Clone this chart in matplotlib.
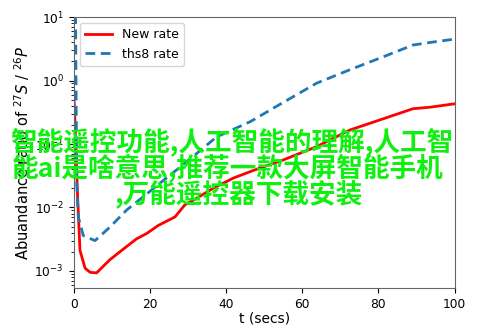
import numpy as np
import matplotlib
matplotlib.use("Agg")
from matplotlib import pyplot as plt

# values (log axis)
t_new = [0, 0.3, 0.6, 1.0, 1.65, 3, 4.3, 6, 9.5, 13, 16.5, 19.2, 22.2, 26.6, 29.2,
         31.4, 36.6, 41.9, 47, 55, 63.8, 72.5, 81.3, 89.1, 93.5, 100]
new_rate = [0.7, 0.25, 0.08, 0.016, 0.0021, 0.0011, 0.00095, 0.00093, 0.0015, 0.0022,
            0.0032, 0.0039, 0.0052, 0.0071, 0.011, 0.013, 0.020, 0.029, 0.038, 0.056,
            0.091, 0.166, 0.25, 0.36, 0.38, 0.43]

t_ths8 = [0, 0.5, 0.8, 1.2, 2.5, 5.6, 9.5, 13.9, 18.3, 22.6, 27, 32.3, 37.5, 46.3,
          54.1, 63.8, 72.5, 81.3, 89.1, 93.5, 100]
ths8_rate = [100, 8, 0.024, 0.0071, 0.0036, 0.003, 0.0049, 0.0091, 0.0148, 0.024,
             0.039, 0.071, 0.129, 0.224, 0.42, 0.91, 1.48, 2.37, 3.63, 3.98, 4.5]

overlay_lines = ["智能遥控功能,人工智能的理解,人工智",
                 "能ai是啥意思,推荐一款大屏智能手机",
                 ",万能遥控器下载安装"]

fig = plt.figure(figsize=(4.93, 3.29), dpi=100)
ax = fig.add_axes([0.1495, 0.125, 0.7725, 0.823])

ax.plot(t_new, new_rate, color="red", lw=2, label="New rate")
ax.plot(t_ths8, ths8_rate, color="#1f77b4", lw=2, ls="--", dashes=(3.5, 2), label="ths8 rate")

ax.set_yscale("log")
ax.set_xlim(0, 100)
ax.set_ylim(5.4e-4, 10)
ax.set_xticks([0, 20, 40, 60, 80, 100])
ax.tick_params(labelsize=8.8)
ax.set_xlabel("t (secs)", fontsize=10, labelpad=1)
ax.set_ylabel("Abuandance ratio of $^{27}S$ / $^{26}P$", fontsize=10.5, labelpad=2)
for s in ax.spines.values():
    s.set_color("#666666")
ax.legend(loc="upper left", fontsize=9, handlelength=2.2)

# green overlay text
ys = [0.565, 0.489, 0.407]
xs = [10, 12, 115]
for line, y, x in zip(overlay_lines, ys, xs):
    fig.text(x / 493, y, line, color="#10f010", fontsize=19.2, fontweight="bold",
             family=["Noto Sans CJK SC", "DejaVu Sans"], ha="left", va="center")

fig.savefig("out.png", dpi=100)
